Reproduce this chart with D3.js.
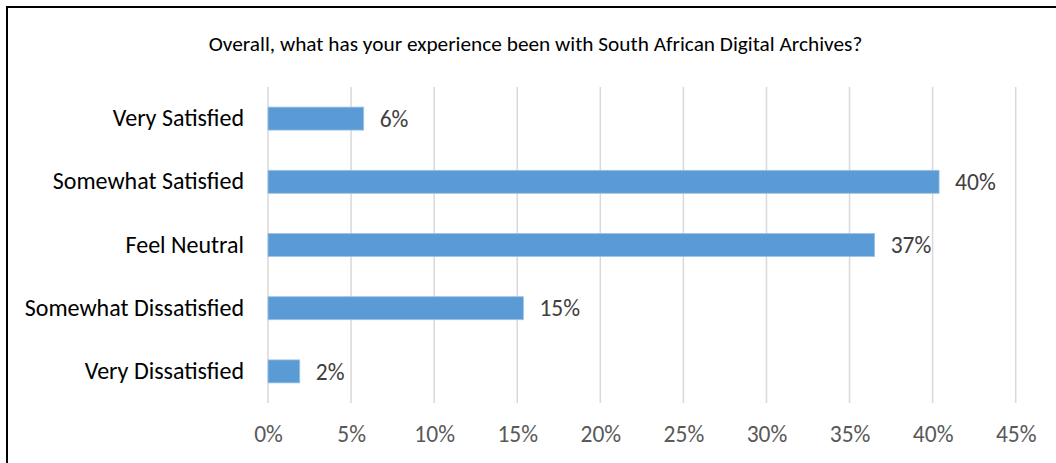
<!DOCTYPE html>
<html>
<head>
<meta charset="utf-8">
<script src="https://cdn.jsdelivr.net/npm/d3@7"></script>
<style>
  html, body { margin: 0; padding: 0; background: #fff; }
  svg { display: block; }
  text { font-family: Carlito, Calibri, Lato, "Open Sans", sans-serif; }
</style>
</head>
<body>
<svg id="chart" width="1056" height="463"></svg>
<script>
// Survey responses (share of respondents)
const categories = ["Very Satisfied", "Somewhat Satisfied", "Feel Neutral", "Somewhat Dissatisfied", "Very Dissatisfied"];
const shares = [0.0576, 0.4039, 0.3651, 0.1537, 0.0191];
const tickValues = [0, 0.05, 0.10, 0.15, 0.20, 0.25, 0.30, 0.35, 0.40, 0.45];
const title = "Overall, what has your experience been with South African Digital Archives?";

const svg = d3.select("#chart");
const W = 1056, H = 463;
const plot = { left: 268, right: 1015.7, top: 87, bottom: 403 };
const labelSize = 23.5;
const categorySize = 24;
const fontStack = "Carlito, Calibri, Lato, 'Open Sans', sans-serif";

svg.append("rect").attr("width", W).attr("height", H).attr("fill", "#fff");

// outer chart frame
svg.append("rect")
  .attr("x", 7).attr("y", 7)
  .attr("width", W + 20).attr("height", H + 20)
  .attr("fill", "none").attr("stroke", "#000").attr("stroke-width", 2);

svg.append("text")
  .attr("x", 535.5).attr("y", 50.5)
  .attr("text-anchor", "middle")
  .attr("font-size", 21.3)
  .attr("fill", "#000")
  .text(title);

const x = d3.scaleLinear().domain([0, 0.45]).range([plot.left, plot.right]);
const y = d3.scaleBand().domain(categories).range([plot.top, plot.bottom]).paddingInner(0.636).paddingOuter(0.318);

// vertical gridlines
svg.append("g").selectAll("line").data(tickValues).join("line")
  .attr("x1", d => x(d)).attr("x2", d => x(d))
  .attr("y1", plot.top).attr("y2", plot.bottom)
  .attr("stroke", "#d9d9d9").attr("stroke-width", 1.5);

// x axis tick labels
const xAxis = d3.axisBottom(x).tickValues(tickValues).tickFormat(d3.format(".0%")).tickSize(0).tickPadding(0);
const gx = svg.append("g").attr("transform", `translate(0,${plot.bottom})`).call(xAxis);
gx.select(".domain").remove();
gx.selectAll("text")
  .attr("dy", null).attr("y", 39)
  .attr("font-size", labelSize).attr("fill", "#595959")
  .style("font-family", fontStack);

// category labels
const yAxis = d3.axisLeft(y).tickSize(0).tickPadding(0);
const gy = svg.append("g").attr("transform", `translate(244,0)`).call(yAxis);
gy.select(".domain").remove();
gy.selectAll("text")
  .attr("font-size", categorySize).attr("fill", "#000").attr("x", 0)
  .style("font-family", fontStack);

// bars
svg.append("g").selectAll("rect").data(categories).join("rect")
  .attr("x", x(0))
  .attr("y", d => y(d))
  .attr("width", (d, i) => x(shares[i]) - x(0))
  .attr("height", y.bandwidth())
  .attr("fill", "#5b9bd5")
  .attr("stroke", "#9dc3e6").attr("stroke-width", 0.8);

// value labels
svg.append("g").selectAll("text").data(categories).join("text")
  .attr("x", (d, i) => x(shares[i]) + 16)
  .attr("y", d => y(d) + y.bandwidth() / 2)
  .attr("dy", "0.35em")
  .attr("font-size", labelSize).attr("fill", "#404040")
  .text((d, i) => d3.format(".0%")(shares[i]));
</script>
</body>
</html>
